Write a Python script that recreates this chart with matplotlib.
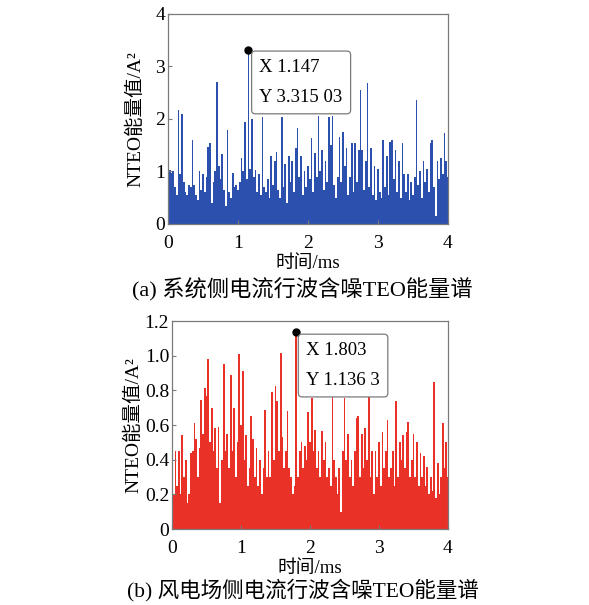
import numpy as np
import matplotlib
matplotlib.use('Agg')
import matplotlib.pyplot as plt

plt.rcParams['font.family'] = ['Liberation Serif', 'Noto Sans CJK SC']

time_step = 0.025  # ms between samples

sys_energy = [
    0.60, 1.02, 0.98, 1.00, 0.70, 0.55, 2.18, 0.95, 2.09, 0.80,
    0.60, 0.55, 0.75, 0.70, 1.60, 0.75, 0.55, 0.45, 1.00, 0.65,
    0.95, 0.60, 0.90, 1.47, 1.55, 0.40, 0.80, 1.00, 2.71, 1.10,
    0.85, 1.33, 0.65, 0.35, 1.79, 0.60, 0.50, 0.97, 0.70, 0.75,
    0.65, 0.80, 1.25, 1.00, 1.95, 0.85, 3.315, 1.05, 2.00, 0.90,
    1.02, 0.60, 0.95, 0.55, 2.04, 0.70, 0.60, 0.85, 0.50, 1.30,
    0.75, 1.20, 1.38, 0.65, 0.50, 2.04, 0.70, 1.15, 0.40, 1.30,
    0.80, 1.20, 0.60, 1.45, 1.82, 0.90, 1.30, 0.55, 1.00, 0.70,
    1.10, 0.85, 1.63, 0.60, 1.35, 0.90, 2.05, 1.00, 1.40, 0.65,
    1.20, 0.80, 2.03, 1.50, 2.05, 0.75, 0.50, 0.90, 1.66, 0.80,
    1.76, 1.10, 1.45, 0.55, 0.90, 1.55, 0.60, 1.55, 0.80, 1.40,
    2.55, 1.40, 0.65, 1.20, 2.68, 0.70, 1.44, 0.55, 1.10, 0.45,
    1.05, 0.60, 0.50, 1.60, 0.70, 1.30, 0.55, 1.56, 1.60, 0.85,
    1.40, 0.60, 1.20, 0.50, 1.55, 0.95, 0.60, 0.95, 0.45, 0.80,
    0.55, 0.90, 2.37, 0.75, 1.00, 0.50, 1.20, 0.80, 1.05, 0.60,
    1.55, 1.60, 0.70, 0.15, 1.20, 0.85, 1.25, 0.95, 1.74, 1.20,
    0.90,
]

wind_energy = [
    0.45, 0.20, 0.45, 0.25, 0.45, 0.20, 0.54, 0.30, 0.40, 0.15,
    0.20, 0.44, 0.45, 0.61, 0.52, 0.30, 0.47, 0.745, 0.55, 0.815,
    0.77, 0.98, 0.50, 0.70, 0.45, 0.58, 0.35, 0.59, 0.15, 0.40,
    0.95, 0.45, 0.55, 0.35, 0.89, 0.45, 0.70, 0.30, 0.50, 1.007,
    0.60, 0.91, 0.40, 0.54, 0.25, 0.35, 0.65, 0.52, 0.30, 0.47,
    0.25, 0.40, 0.20, 0.35, 0.687, 0.30, 0.45, 0.30, 0.79, 0.40,
    0.825, 0.74, 0.45, 1.017, 0.53, 0.35, 0.45, 0.68, 0.35, 0.30,
    0.20, 0.25, 1.1363, 0.30, 0.45, 0.50, 0.35, 0.48, 0.40, 0.677,
    0.50, 0.756, 0.45, 0.57, 0.35, 0.45, 0.30, 0.565, 0.40, 0.50,
    0.30, 0.35, 0.25, 0.763, 0.40, 0.30, 0.20, 0.35, 0.10, 0.45,
    0.754, 0.40, 0.55, 0.30, 0.40, 0.25, 0.45, 0.64, 0.65, 0.30,
    0.55, 0.35, 0.58, 0.40, 0.763, 0.30, 0.45, 0.20, 0.45, 0.30,
    0.50, 0.25, 0.56, 0.35, 0.45, 0.63, 0.30, 0.35, 0.45, 0.25,
    0.74, 0.30, 0.50, 0.40, 0.54, 0.35, 0.56, 0.62, 0.30, 0.40,
    0.55, 0.30, 0.50, 0.25, 0.44, 0.30, 0.42, 0.25, 0.36, 0.20,
    0.30, 0.22, 0.85, 0.18, 0.38, 0.20, 0.30, 0.61, 0.35, 0.50,
    0.30,
]

sys_tip = ("X 1.147", "Y 3.315 03")
wind_tip = ("X 1.803", "Y 1.136 3")

x_ticks = [0, 1, 2, 3, 4]
sys_yticks = [0, 1, 2, 3, 4]
wind_yticks = [0, 0.2, 0.4, 0.6, 0.8, 1.0, 1.2]
wind_yticklabels = ["0", "0.2", "0.4", "0.6", "0.8", "1.0", "1.2"]

xlabel = "时间/ms"
ylabel = "NTEO能量值/A²"
caption_a = "(a) 系统侧电流行波含噪TEO能量谱"
caption_b = "(b) 风电场侧电流行波含噪TEO能量谱"

fig = plt.figure(figsize=(5.89, 6.05), dpi=100)
ax1 = fig.add_axes([0.2852, 0.6298, 0.4754, 0.3471])
ax2 = fig.add_axes([0.2920, 0.1256, 0.4686, 0.3438])

def draw(ax, vals, color, ylim, yticks, yticklabels, tip, tip_offset, ylpad):
    vals = np.asarray(vals)
    t = np.arange(len(vals)) * time_step
    ax.bar(t, vals, width=time_step, color=color, linewidth=0, align='center')
    ax.set_xlim(0, 4)
    ax.set_ylim(*ylim)
    ax.set_xticks(x_ticks)
    ax.set_xticklabels([str(v) for v in x_ticks])
    ax.set_yticks(yticks)
    ax.set_yticklabels(yticklabels)
    for s in ax.spines.values():
        s.set_color('#7a7a7a')
        s.set_linewidth(0.9)
    ax.tick_params(direction='in', length=3, width=0.8, color='#7a7a7a',
                   labelsize=14)
    ax.tick_params(axis='x', pad=8)
    ax.tick_params(axis='y', pad=2)
    ax.set_xlabel(xlabel, fontsize=13.5, labelpad=2)
    ax.set_ylabel(ylabel, fontsize=14, labelpad=ylpad)
    k = int(np.argmax(vals))
    ax.plot(t[k], vals[k], 'o', color='black', markersize=5, zorder=5,
            clip_on=False)
    ax.annotate("\n".join(tip), xy=(t[k], vals[k]), xycoords='data',
                xytext=tip_offset, textcoords='offset pixels',
                ha='left', va='top', fontsize=13.5, linespacing=2.0,
                bbox=dict(boxstyle='round,pad=0.42,rounding_size=0.2',
                          fc='white', ec='#7a7a7a', lw=0.9),
                zorder=6)

draw(ax1, sys_energy, '#2b50ae', (0, 4), sys_yticks,
     [str(v) for v in sys_yticks], sys_tip, (11, -9), 8)
draw(ax2, wind_energy, '#ea3128', (0, 1.2), wind_yticks,
     wind_yticklabels, wind_tip, (10, -10), 2)

fig.text(0.514, 0.521, caption_a, ha='center', va='center', fontsize=16)
fig.text(0.514, 0.025, caption_b, ha='center', va='center', fontsize=15.5)

fig.savefig('out.png', dpi=100)
